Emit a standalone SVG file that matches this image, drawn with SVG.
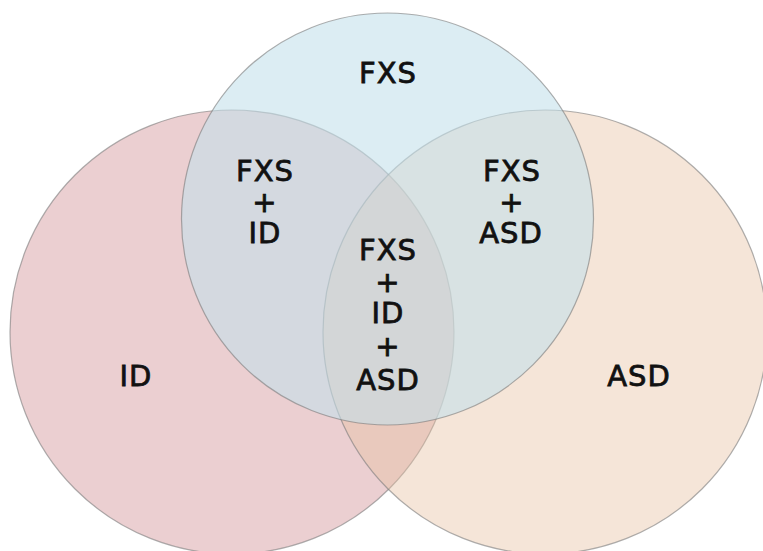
<svg xmlns="http://www.w3.org/2000/svg" width="763" height="551" viewBox="0 0 763 551">
<style>
.set{stroke:#7a7a7a;stroke-opacity:0.6;stroke-width:1.2}
.lbl{font-family:"DejaVu Sans","Liberation Sans",sans-serif;font-size:29px;letter-spacing:1px;fill:#111;stroke:#111;stroke-width:0.8;text-anchor:middle}
</style>
<rect width="763" height="551" fill="#ffffff"/>
<g id="set-id">
<circle class="set" cx="232" cy="332" r="222" fill="#cf8d91" fill-opacity="0.42"/>
</g>
<g id="set-asd">
<circle class="set" cx="545" cy="332" r="222" fill="#e7c1a2" fill-opacity="0.42"/>
</g>
<g id="set-fxs">
<circle class="set" cx="387.5" cy="219" r="206" fill="#c3e0ea" fill-opacity="0.58"/>
</g>
<g id="labels">
<text class="lbl" x="388" y="83">FXS</text>
<text class="lbl" x="265" y="181">FXS</text>
<text class="lbl" x="265" y="212">+</text>
<text class="lbl" x="265" y="243">ID</text>
<text class="lbl" x="512" y="181">FXS</text>
<text class="lbl" x="512" y="212">+</text>
<text class="lbl" x="511" y="243">ASD</text>
<text class="lbl" x="388" y="260">FXS</text>
<text class="lbl" x="388" y="292">+</text>
<text class="lbl" x="388" y="323">ID</text>
<text class="lbl" x="388" y="356">+</text>
<text class="lbl" x="388" y="390">ASD</text>
<text class="lbl" x="136" y="386">ID</text>
<text class="lbl" x="639" y="386">ASD</text>
</g>
</svg>
